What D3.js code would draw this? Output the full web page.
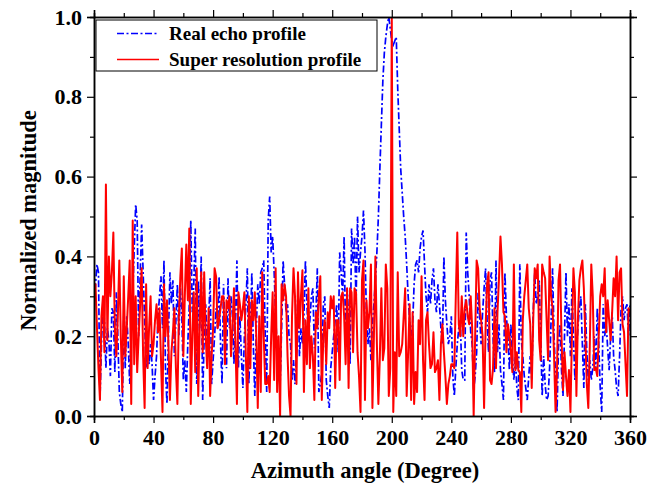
<!DOCTYPE html>
<html>
<head>
<meta charset="utf-8">
<script src="https://cdn.jsdelivr.net/npm/d3@7"></script>
<style>
  body { margin: 0; background: #fff; }
  svg text { font-family: "Liberation Serif", "Times New Roman", serif; font-weight: bold; }
</style>
</head>
<body>
<div id="chart"></div>
<script>
// chart size
var svgWidth = 664;
var svgHeight = 488;

// plot box in pixels
var margin = { top: 17, right: 34, bottom: 72, left: 94 };
var chartWidth = svgWidth - margin.left - margin.right;
var chartHeight = svgHeight - margin.top - margin.bottom;

// azimuth angle, one sample per degree
var angles = d3.range(0, 361);

// real echo profile (blue dash-dot)
var realEcho = [
  0.28, 0.33, 0.38, 0.36, 0.04, 0.18, 0.28, 0.24, 0.12, 0.22,
  0.19, 0.10, 0.27, 0.26, 0.11, 0.31, 0.20, 0.06, 0.03, 0.01,
  0.25, 0.12, 0.25, 0.18, 0.08, 0.22, 0.30, 0.42, 0.53, 0.49,
  0.20, 0.35, 0.48, 0.36, 0.24, 0.12, 0.20, 0.13, 0.18, 0.13,
  0.04, 0.10, 0.15, 0.25, 0.30, 0.35, 0.22, 0.39, 0.12, 0.03,
  0.20, 0.36, 0.28, 0.34, 0.15, 0.24, 0.33, 0.20, 0.32, 0.25,
  0.09, 0.14, 0.06, 0.18, 0.28, 0.49, 0.26, 0.33, 0.47, 0.08,
  0.34, 0.22, 0.40, 0.04, 0.20, 0.28, 0.18, 0.24, 0.345, 0.08,
  0.14, 0.20, 0.27, 0.22, 0.35, 0.18, 0.08, 0.33, 0.20, 0.12,
  0.345, 0.22, 0.30, 0.25, 0.13, 0.24, 0.39, 0.12, 0.25, 0.15,
  0.07, 0.20, 0.28, 0.37, 0.08, 0.20, 0.36, 0.18, 0.05, 0.22,
  0.33, 0.28, 0.36, 0.37, 0.39, 0.20, 0.06, 0.49, 0.55, 0.41,
  0.45, 0.36, 0.25, 0.17, 0.12, 0.08, 0.22, 0.39, 0.33, 0.26,
  0.28, 0.20, 0.18, 0.09, 0.14, 0.08, 0.16, 0.32, 0.15, 0.22,
  0.18, 0.25, 0.39, 0.28, 0.20, 0.24, 0.30, 0.32, 0.17, 0.25,
  0.37, 0.06, 0.08, 0.11, 0.28, 0.30, 0.09, 0.05, 0.02, 0.12,
  0.16, 0.20, 0.24, 0.28, 0.16, 0.41, 0.36, 0.30, 0.45, 0.18,
  0.32, 0.25, 0.13, 0.47, 0.38, 0.45, 0.28, 0.50, 0.36, 0.41,
  0.45, 0.515, 0.415, 0.25, 0.18, 0.22, 0.14, 0.23, 0.28, 0.34,
  0.41, 0.50, 0.62, 0.73, 0.84, 0.91, 0.95, 0.98, 1.00, 0.97,
  0.94, 0.93, 0.94, 0.95, 0.82, 0.72, 0.62, 0.56, 0.50, 0.45,
  0.38, 0.30, 0.24, 0.20, 0.23, 0.33, 0.38, 0.39, 0.36, 0.42,
  0.45, 0.465, 0.38, 0.30, 0.26, 0.33, 0.28, 0.34, 0.37, 0.29,
  0.26, 0.33, 0.28, 0.22, 0.18, 0.40, 0.29, 0.23, 0.18, 0.20,
  0.25, 0.10, 0.05, 0.12, 0.18, 0.22, 0.24, 0.115, 0.09, 0.09,
  0.46, 0.36, 0.30, 0.21, 0.18, 0.065, 0.10, 0.16, 0.31, 0.25,
  0.18, 0.26, 0.32, 0.37, 0.24, 0.16, 0.34, 0.36, 0.20, 0.11,
  0.39, 0.16, 0.23, 0.115, 0.08, 0.04, 0.36, 0.25, 0.20, 0.115,
  0.23, 0.15, 0.09, 0.15, 0.07, 0.04, 0.38, 0.19, 0.15, 0.10,
  0.07, 0.04, 0.10, 0.15, 0.09, 0.26, 0.36, 0.28, 0.30, 0.34,
  0.20, 0.05, 0.15, 0.08, 0.04, 0.05, 0.12, 0.24, 0.37, 0.20,
  0.10, 0.01, 0.18, 0.23, 0.115, 0.05, 0.20, 0.36, 0.20, 0.28,
  0.15, 0.32, 0.20, 0.09, 0.16, 0.22, 0.27, 0.30, 0.18, 0.07,
  0.28, 0.16, 0.09, 0.14, 0.09, 0.12, 0.20, 0.115, 0.27, 0.18,
  0.07, 0.01, 0.28, 0.20, 0.23, 0.17, 0.115, 0.20, 0.26, 0.15,
  0.115, 0.07, 0.05, 0.15, 0.27, 0.30, 0.24, 0.27, 0.28, 0.20,
  0.28
];

// super resolution profile (red solid)
var superRes = [
  0.30, 0.33, 0.22, 0.12, 0.04, 0.25, 0.30, 0.16, 0.58, 0.19,
  0.40, 0.30, 0.36, 0.46, 0.22, 0.15, 0.25, 0.39, 0.20, 0.06,
  0.35, 0.15, 0.22, 0.30, 0.39, 0.03, 0.49, 0.13, 0.30, 0.11,
  0.20, 0.28, 0.37, 0.15, 0.02, 0.33, 0.12, 0.22, 0.30, 0.15,
  0.18, 0.24, 0.28, 0.21, 0.27, 0.14, 0.01, 0.33, 0.20, 0.29,
  0.18, 0.04, 0.16, 0.21, 0.27, 0.12, 0.03, 0.25, 0.35, 0.42,
  0.15, 0.30, 0.43, 0.29, 0.47, 0.03, 0.20, 0.31, 0.11, 0.37,
  0.05, 0.22, 0.36, 0.16, 0.36, 0.20, 0.12, 0.27, 0.05, 0.15,
  0.22, 0.37, 0.35, 0.22, 0.24, 0.27, 0.30, 0.30, 0.13, 0.29,
  0.27, 0.30, 0.15, 0.22, 0.32, 0.18, 0.03, 0.31, 0.28, 0.24,
  0.27, 0.31, 0.15, 0.01, 0.30, 0.12, 0.29, 0.24, 0.31, 0.20,
  0.02, 0.25, 0.06, 0.36, 0.20, 0.08, 0.08, 0.10, 0.06, 0.20,
  0.31, 0.09, 0.37, 0.06, 0.20, 0.00, 0.33, 0.29, 0.33, 0.30,
  0.15, 0.05, 0.00, 0.25, 0.37, 0.30, 0.08, 0.36, 0.22, 0.30,
  0.365, 0.06, 0.24, 0.13, 0.32, 0.12, 0.20, 0.15, 0.04, 0.26,
  0.22, 0.30, 0.35, 0.04, 0.20, 0.24, 0.13, 0.26, 0.22, 0.30,
  0.27, 0.30, 0.07, 0.24, 0.24, 0.09, 0.30, 0.31, 0.25, 0.13,
  0.32, 0.07, 0.32, 0.31, 0.16, 0.32, 0.31, 0.16, 0.10, 0.01,
  0.34, 0.39, 0.04, 0.29, 0.22, 0.26, 0.38, 0.02, 0.20, 0.40,
  0.18, 0.03, 0.15, 0.32, 0.14, 0.17, 0.38, 0.32, 0.05, 0.12,
  1.00, 0.01, 0.16, 0.05, 0.36, 0.15, 0.16, 0.18, 0.25, 0.32,
  0.05, 0.16, 0.28, 0.04, 0.26, 0.03, 0.11, 0.06, 0.24, 0.18,
  0.35, 0.14, 0.04, 0.24, 0.26, 0.18, 0.12, 0.13, 0.21, 0.11,
  0.12, 0.14, 0.04, 0.18, 0.23, 0.16, 0.10, 0.03, 0.08, 0.10,
  0.13, 0.13, 0.12, 0.30, 0.46, 0.23, 0.20, 0.30, 0.20, 0.27,
  0.29, 0.25, 0.23, 0.30, 0.22, 0.00, 0.20, 0.39, 0.37, 0.27,
  0.24, 0.20, 0.02, 0.22, 0.33, 0.36, 0.09, 0.08, 0.12, 0.27,
  0.12, 0.26, 0.345, 0.45, 0.38, 0.26, 0.25, 0.16, 0.23, 0.20,
  0.16, 0.11, 0.38, 0.115, 0.16, 0.115, 0.11, 0.01, 0.24, 0.30,
  0.34, 0.38, 0.27, 0.23, 0.07, 0.24, 0.37, 0.345, 0.38, 0.19,
  0.14, 0.38, 0.36, 0.345, 0.24, 0.14, 0.40, 0.30, 0.27, 0.15,
  0.01, 0.115, 0.34, 0.38, 0.20, 0.065, 0.16, 0.10, 0.05, 0.115,
  0.01, 0.20, 0.37, 0.31, 0.05, 0.24, 0.34, 0.37, 0.39, 0.32,
  0.20, 0.08, 0.02, 0.175, 0.38, 0.30, 0.115, 0.12, 0.10, 0.20,
  0.30, 0.33, 0.30, 0.37, 0.21, 0.29, 0.24, 0.19, 0.26, 0.345,
  0.30, 0.40, 0.24, 0.36, 0.37, 0.23, 0.21, 0.13, 0.05, 0.27,
  0.26
];

var xMajorTicks = [0, 40, 80, 120, 160, 200, 240, 280, 320, 360];
var yMajorTicks = [0, 0.2, 0.4, 0.6, 0.8, 1.0];
var seriesNames = ["Real echo profile", "Super resolution profile"];

var xScale = d3.scaleLinear().domain([0, 360]).range([0, chartWidth]);
var yScale = d3.scaleLinear().domain([0, 1]).range([chartHeight, 0]);

var svg = d3.select("#chart").append("svg")
    .attr("width", svgWidth)
    .attr("height", svgHeight);

var chartG = svg.append("g")
    .attr("transform", `translate(${margin.left}, ${margin.top})`);

svg.append("defs").append("clipPath").attr("id", "plotclip")
  .append("rect")
    .attr("width", chartWidth)
    .attr("height", chartHeight + 1);

// lines: blue first, red on top
var lineGen = data => d3.line()
    .x((d, i) => xScale(angles[i]))
    .y(d => yScale(d))(data);

var linesG = chartG.append("g").attr("clip-path", "url(#plotclip)");

linesG.append("path")
    .attr("d", lineGen(realEcho))
    .attr("fill", "none")
    .attr("stroke", "#0000ff")
    .attr("stroke-width", 1.7)
    .attr("stroke-dasharray", "7,2.5,2,2.5");

linesG.append("path")
    .attr("d", lineGen(superRes))
    .attr("fill", "none")
    .attr("stroke", "#ff0000")
    .attr("stroke-width", 2)
    .attr("stroke-linejoin", "round");

// axes, ticks outward on all four sides
var minorX = d3.range(20, 360, 40);
var minorY = d3.range(0.1, 1.0, 0.2);

function styleAxis(g) {
    g.select(".domain").attr("stroke", "#000").attr("stroke-width", 1.5);
    g.selectAll(".tick line").attr("stroke", "#000").attr("stroke-width", 1.2);
    g.selectAll("text").attr("fill", "#000");
}

var xAxisG = chartG.append("g")
    .attr("transform", `translate(0, ${chartHeight})`)
    .call(d3.axisBottom(xScale).tickValues(xMajorTicks).tickSize(7).tickPadding(6).tickFormat(d3.format("d")))
    .call(styleAxis);
xAxisG.selectAll("text").style("font-size", "22px");

chartG.append("g")
    .attr("transform", `translate(0, ${chartHeight})`)
    .call(d3.axisBottom(xScale).tickValues(minorX).tickSize(4).tickFormat(""))
    .call(styleAxis);

var yAxisG = chartG.append("g")
    .call(d3.axisLeft(yScale).tickValues(yMajorTicks).tickSize(7).tickPadding(5).tickFormat(d3.format(".1f")))
    .call(styleAxis);
yAxisG.selectAll("text").style("font-size", "22px");

chartG.append("g")
    .call(d3.axisLeft(yScale).tickValues(minorY).tickSize(4).tickFormat(""))
    .call(styleAxis);

chartG.append("g")
    .call(d3.axisTop(xScale).tickValues(xMajorTicks).tickSize(7).tickFormat(""))
    .call(styleAxis);
chartG.append("g")
    .call(d3.axisTop(xScale).tickValues(minorX).tickSize(4).tickFormat(""))
    .call(styleAxis);

chartG.append("g")
    .attr("transform", `translate(${chartWidth}, 0)`)
    .call(d3.axisRight(yScale).tickValues(yMajorTicks).tickSize(7).tickFormat(""))
    .call(styleAxis);
chartG.append("g")
    .attr("transform", `translate(${chartWidth}, 0)`)
    .call(d3.axisRight(yScale).tickValues(minorY).tickSize(4).tickFormat(""))
    .call(styleAxis);

// axis titles
chartG.append("text")
    .attr("x", xScale(180) + 3)
    .attr("y", chartHeight + 62)
    .attr("text-anchor", "middle")
    .style("font-size", "22.5px")
    .text("Azimuth angle (Degree)");

chartG.append("text")
    .attr("transform", `translate(${28 - margin.left}, ${yScale(0.49)}) rotate(-90)`)
    .attr("text-anchor", "middle")
    .attr("dominant-baseline", "central")
    .style("font-size", "22.5px")
    .text("Normalized magnitude");

// legend
var legendG = chartG.append("g").attr("transform", "translate(2, 3)");
legendG.append("rect")
    .attr("width", 281)
    .attr("height", 51)
    .attr("fill", "#fff")
    .attr("stroke", "#000")
    .attr("stroke-width", 1);

var legendStyles = [
    { color: "#0000ff", dash: "7,2.5,2,2.5" },
    { color: "#ff0000", dash: null }
];
seriesNames.forEach((name, i) => {
    var rowY = 13.5 + i * 26;
    legendG.append("line")
        .attr("x1", 21).attr("x2", 63)
        .attr("y1", rowY).attr("y2", rowY)
        .attr("stroke", legendStyles[i].color)
        .attr("stroke-width", 1.7)
        .attr("stroke-dasharray", legendStyles[i].dash);
    legendG.append("text")
        .attr("x", 73)
        .attr("y", rowY)
        .attr("dominant-baseline", "central")
        .style("font-size", "19px")
        .text(name);
});
</script>
</body>
</html>
